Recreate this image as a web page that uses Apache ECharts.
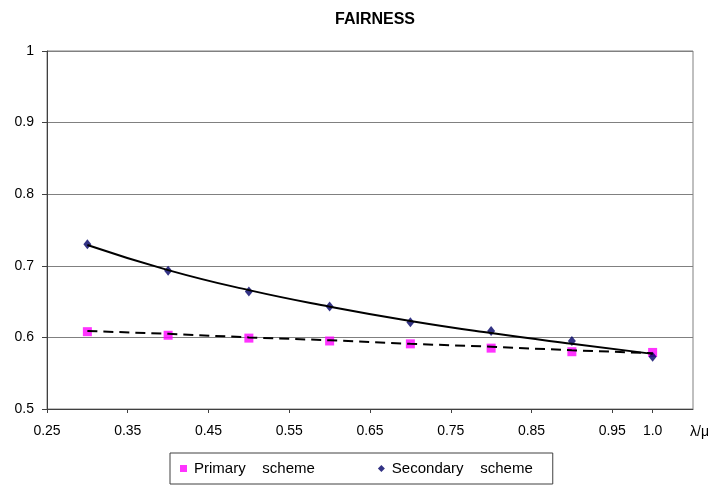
<!DOCTYPE html>
<html>
<head>
<meta charset="utf-8">
<script src="https://cdn.jsdelivr.net/npm/echarts@6/dist/echarts.min.js"></script>
<style>html,body{margin:0;padding:0;background:#fff}#c{width:712px;height:486px}</style>
</head>
<body>
<div id="c"></div>
<script>
const xValues = [0.3, 0.4, 0.5, 0.6, 0.7, 0.8, 0.9, 1.0];
const primary = [0.608, 0.603, 0.599, 0.595, 0.591, 0.585, 0.580, 0.579];
const secondary = [0.730, 0.693, 0.664, 0.643, 0.621, 0.609, 0.595, 0.573];
const primaryTrend = [0.609, 0.605, 0.600, 0.596, 0.591, 0.587, 0.582, 0.578];
const secondaryTrend = [0.729, 0.694, 0.666, 0.643, 0.623, 0.606, 0.591, 0.577];
const xTickValues = [0.25, 0.35, 0.45, 0.55, 0.65, 0.75, 0.85, 0.95, 1.0];
const xTickLabels = ['0.25', '0.35', '0.45', '0.55', '0.65', '0.75', '0.85', '0.95', '1.0'];
const yTickValues = [0.5, 0.6, 0.7, 0.8, 0.9, 1.0];
const yTickLabels = ['0.5', '0.6', '0.7', '0.8', '0.9', '1'];
const seriesNames = ['Primary    scheme', 'Secondary    scheme'];

const pair = (ys) => xValues.map((x, i) => [x, ys[i]]);
const font = 'Liberation Sans, Arial, sans-serif';

const chart = echarts.init(document.getElementById('c'), null, {renderer: 'canvas'});
chart.setOption({
  animation: false,
  backgroundColor: '#ffffff',
  title: {
    text: 'FAIRNESS', left: 370, top: 7, textAlign: 'center',
    textStyle: {fontFamily: font, fontSize: 16, fontWeight: 'bold', color: '#000'}
  },
  grid: {left: 47, right: 19, top: 51, bottom: 77, show: true, borderColor: '#808080', borderWidth: 1,
    containLabel: false, outerBoundsMode: 'none'},
  legend: {
    left: 170, top: 453,
    padding: [8, 20, 8, 10],
    borderColor: '#404040', borderWidth: 1,
    itemGap: 63, itemWidth: 7, itemHeight: 7,
    textStyle: {fontFamily: font, fontSize: 15, color: '#000', padding: [0, 0, 0, 2]},
    data: [
      {name: seriesNames[0], icon: 'rect'},
      {name: seriesNames[1], icon: 'diamond'}
    ]
  },
  xAxis: {
    type: 'value', min: 0.25, max: 1.05,
    name: 'λ/μ', nameLocation: 'end', nameGap: -3,
    nameTextStyle: {fontFamily: font, fontSize: 14, color: '#000', align: 'left', verticalAlign: 'top', padding: [16, 0, 0, 0]},
    axisLine: {show: true, lineStyle: {color: '#404040'}},
    axisTick: {show: true, length: 4, customValues: xTickValues, lineStyle: {color: '#404040'}},
    axisLabel: {
      customValues: xTickValues, margin: 15,
      fontFamily: font, fontSize: 14, color: '#000',
      formatter: (v) => { const i = xTickValues.findIndex(t => Math.abs(t - v) < 1e-6); return i >= 0 ? xTickLabels[i] : ''; }
    },
    splitLine: {show: false}
  },
  yAxis: {
    type: 'value', min: 0.5, max: 1.0, interval: 0.1,
    axisLine: {show: true, lineStyle: {color: '#404040'}},
    axisTick: {show: true, length: 5, lineStyle: {color: '#404040'}},
    axisLabel: {
      margin: 13, fontFamily: font, fontSize: 14, color: '#000',
      formatter: (v) => { const i = yTickValues.findIndex(t => Math.abs(t - v) < 1e-6); return i >= 0 ? yTickLabels[i] : ''; }
    },
    splitLine: {show: true, lineStyle: {color: '#808080', width: 1}}
  },
  series: [
    {
      name: seriesNames[0], type: 'scatter', data: pair(primary),
      symbol: 'rect', symbolSize: 9, itemStyle: {color: '#ff00ff'}, z: 2
    },
    {
      name: seriesNames[1], type: 'scatter', data: pair(secondary),
      symbol: 'diamond', symbolSize: [8, 10], itemStyle: {color: '#000066'}, z: 2
    },
    {
      name: 'primaryTrend', type: 'line', data: pair(primaryTrend), showSymbol: false, symbol: 'none',
      lineStyle: {color: '#000', width: 2, type: [10, 6]}, z: 3, silent: true
    },
    {
      name: 'secondaryTrend', type: 'line', data: pair(secondaryTrend), showSymbol: false, symbol: 'none', smooth: true,
      lineStyle: {color: '#000', width: 2}, z: 3, silent: true
    }
  ]
});
</script>
</body>
</html>
